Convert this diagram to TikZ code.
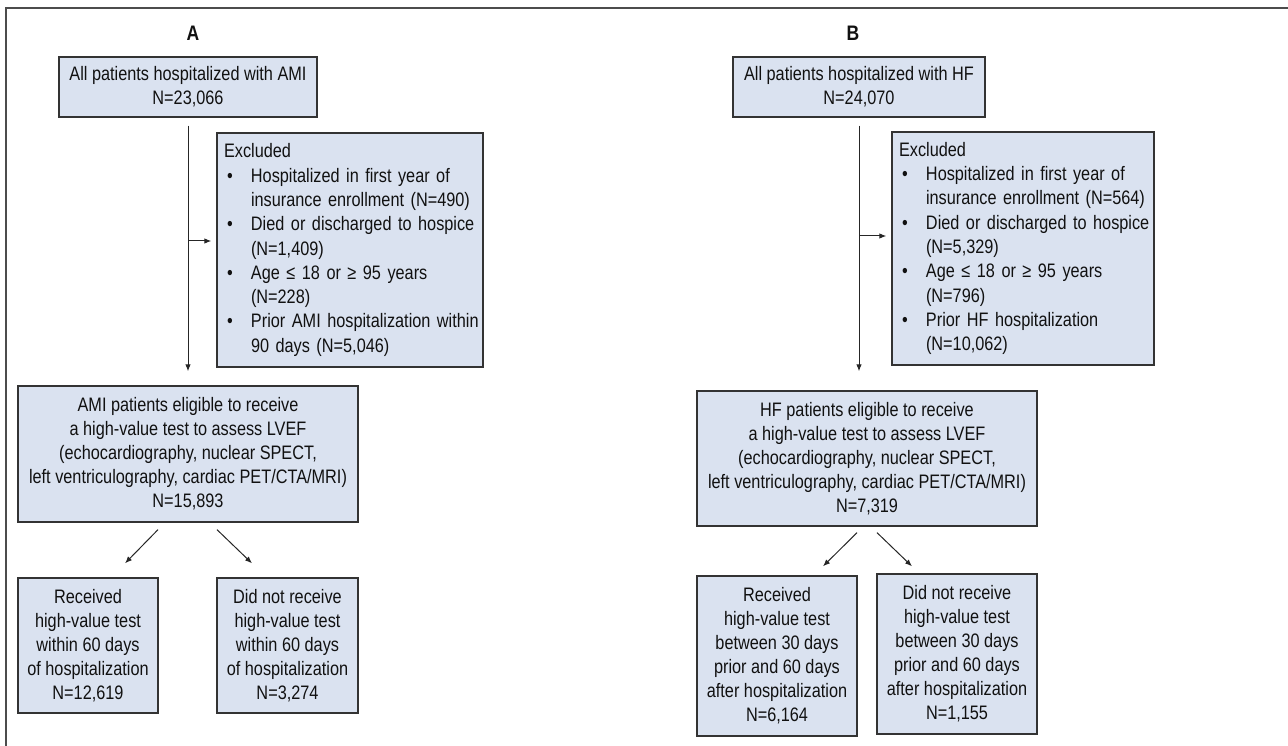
\documentclass[tikz,border=0pt]{standalone}
\usepackage{fontspec}
\setmainfont{Liberation Sans}[FakeStretch=0.835]
\usetikzlibrary{arrows.meta,calc}
\definecolor{boxfill}{HTML}{DAE2F0}
\definecolor{boxline}{HTML}{333333}
\definecolor{txt}{HTML}{111111}
\newcommand{\mybul}[1]{\mbox{\makebox[27pt][l]{\hspace{3pt}\textbullet}#1}}
\newcommand{\myind}[1]{\mbox{\hspace*{27pt}#1}}
\tikzset{
  fbox/.style={draw=boxline, fill=boxfill, line width=1.3pt, inner sep=0pt,
    align=center, text=txt, font=\fontsize{19.5}{24}\selectfont},
  exbox/.style={draw=boxline, fill=boxfill, line width=1.3pt, inner xsep=7pt, inner ysep=0pt,
    align=left, text=txt, font=\fontsize{19.5}{24.3}\selectfont, anchor=center},
  arr/.style={draw=black!85, line width=1pt, -{Latex[length=7pt,width=5.5pt]}},
  plabel/.style={font=\fontsize{21}{22}\selectfont\bfseries, text=txt},
  frame/.style={draw=black!70, line width=2pt}
}
\begin{document}
\begin{tikzpicture}[x=1pt,y=-1pt]
\useasboundingbox (0,0) rectangle (1288,746);
\coordinate (fr1) at (1288,8);
\coordinate (fr2) at (6,8);
\coordinate (fr3) at (6,746);
\draw[frame] (fr1) -- (fr2) -- (fr3);

% Panel A
\node[plabel] (la) at (193,33) {A};
\node[fbox, minimum width=258pt, minimum height=60pt] (A1) at (188,87)
  {All patients hospitalized with AMI\\N=23,066};
\node[exbox, minimum width=266pt, minimum height=234pt, text width=252pt] (EA) at (350,250)
  {Excluded\\
   \mybul{Hospitalized in first year of}\\
   \myind{insurance enrollment (N=490)}\\
   \mybul{Died or discharged to hospice}\\
   \myind{(N=1,409)}\\
   \mybul{Age ≤ 18 or ≥ 95 years}\\
   \myind{(N=228)}\\
   \mybul{Prior AMI hospitalization within}\\
   \myind{90 days (N=5,046)}};
\node[fbox, minimum width=340pt, minimum height=136pt] (A2) at (188,454)
  {AMI patients eligible to receive\\a high-value test to assess LVEF\\(echocardiography, nuclear SPECT,\\left ventriculography, cardiac PET/CTA/MRI)\\N=15,893};
\node[fbox, minimum width=140pt, minimum height=135pt] (A3) at (88,645.5)
  {Received\\high-value test\\within 60 days\\of hospitalization\\N=12,619};
\node[fbox, minimum width=141pt, minimum height=135pt] (A4) at (287.5,645.5)
  {Did not receive\\high-value test\\within 60 days\\of hospitalization\\N=3,274};

\coordinate (Abr) at (189,241);
\draw[arr, shorten <=8pt, shorten >=14pt] (A1.south) -- (A2.north);
\draw[arr, shorten >=5pt] (Abr) -- (Abr -| EA.west);
\draw[arr] ($(A2.south)+(-30,7)$) -- ($(A3.north)+(37,-14)$);
\draw[arr] ($(A2.south)+(29,7)$) -- ($(A4.north)+(-35.5,-14)$);

% Panel B
\node[plabel] (lb) at (853,33) {B};
\node[fbox, minimum width=252pt, minimum height=60pt] (B1) at (859,87)
  {All patients hospitalized with HF\\N=24,070};
\node[exbox, minimum width=262pt, minimum height=233pt, text width=248pt] (EB) at (1023,248.5)
  {Excluded\\
   \mybul{Hospitalized in first year of}\\
   \myind{insurance enrollment (N=564)}\\
   \mybul{Died or discharged to hospice}\\
   \myind{(N=5,329)}\\
   \mybul{Age ≤ 18 or ≥ 95 years}\\
   \myind{(N=796)}\\
   \mybul{Prior HF hospitalization}\\
   \myind{(N=10,062)}};
\node[fbox, minimum width=340pt, minimum height=135pt] (B2) at (867,458.5)
  {HF patients eligible to receive\\a high-value test to assess LVEF\\(echocardiography, nuclear SPECT,\\left ventriculography, cardiac PET/CTA/MRI)\\N=7,319};
\node[fbox, minimum width=160pt, minimum height=160pt] (B3) at (777,656)
  {Received\\high-value test\\between 30 days\\prior and 60 days\\after hospitalization\\N=6,164};
\node[fbox, minimum width=160pt, minimum height=160pt] (B4) at (957,654)
  {Did not receive\\high-value test\\between 30 days\\prior and 60 days\\after hospitalization\\N=1,155};

\coordinate (Bbr) at (859,236);
\draw[arr, shorten <=8pt, shorten >=19pt] (B1.south) -- (B1.south |- B2.north);
\draw[arr, shorten >=5pt] (Bbr) -- (Bbr -| EB.west);
\draw[arr] ($(B2.south)+(-10,6)$) -- ($(B3.north)+(46,-9)$);
\draw[arr] ($(B2.south)+(10,6)$) -- ($(B4.north)+(-45,-7)$);
\end{tikzpicture}
\end{document}
